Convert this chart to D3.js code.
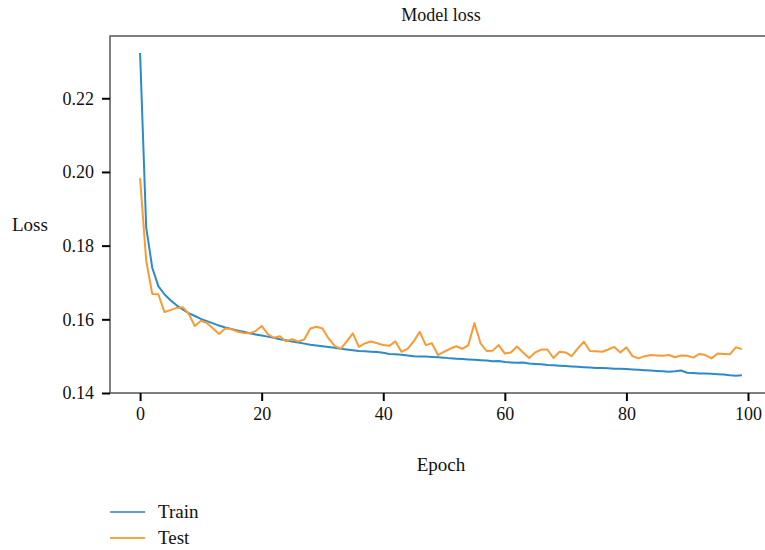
<!DOCTYPE html>
<meta charset="utf-8">
<style>
  body { margin: 0; background: #fff; }
  svg text { font-family: "Liberation Serif", "DejaVu Serif", serif; fill: #111; }
</style>
<script src="https://d3js.org/d3.v7.min.js"></script>
<div id="chart"></div>
<script>
  // epochs 0..99
  var epochs = d3.range(0, 100);

  var trainLoss = [
    0.2323, 0.1850, 0.1740, 0.1690, 0.1668, 0.1652, 0.1638, 0.1627, 0.1617, 0.1609,
    0.1601, 0.1595, 0.1589, 0.1583, 0.1578, 0.1574, 0.1570, 0.1566, 0.1562, 0.1559,
    0.1556, 0.1553, 0.1550, 0.1546, 0.1543, 0.1540, 0.1537, 0.1534, 0.1531, 0.1529,
    0.1527, 0.1525, 0.1523, 0.1520, 0.1518, 0.1516, 0.1514, 0.1513, 0.1512, 0.1511,
    0.1509, 0.1506, 0.1505, 0.1504, 0.1502, 0.1500, 0.1499, 0.1499, 0.1498, 0.1497,
    0.1496, 0.1494, 0.1493, 0.1492, 0.1491, 0.1490, 0.1489, 0.1488, 0.1486, 0.1487,
    0.1484, 0.1483, 0.1482, 0.1483, 0.1480, 0.1479, 0.1478, 0.1476, 0.1475, 0.1474,
    0.1473, 0.1472, 0.1471, 0.1470, 0.1469, 0.1468, 0.1468, 0.1467, 0.1466, 0.1466,
    0.1465, 0.1464, 0.1463, 0.1462, 0.1461, 0.1460, 0.1459, 0.1458, 0.1459, 0.1461,
    0.1455, 0.1454, 0.1453, 0.1453, 0.1452, 0.1451, 0.1450, 0.1448, 0.1447, 0.1448
  ];

  var testLoss = [
    0.1983, 0.1760, 0.1669, 0.1668, 0.1620, 0.1625, 0.1631, 0.1633, 0.1615, 0.1582,
    0.1596, 0.1590, 0.1575, 0.1560, 0.1575, 0.1573, 0.1567, 0.1563, 0.1562, 0.1568,
    0.1582, 0.1560, 0.1550, 0.1554, 0.1540, 0.1546, 0.1540, 0.1545, 0.1575, 0.1580,
    0.1575, 0.1548, 0.1528, 0.1520, 0.1540, 0.1562, 0.1525, 0.1535, 0.1540, 0.1535,
    0.1530, 0.1528, 0.1540, 0.1512, 0.1520, 0.1540, 0.1566, 0.1530, 0.1535, 0.1503,
    0.1512, 0.1520, 0.1527, 0.1520, 0.1530, 0.1590, 0.1535, 0.1514, 0.1515, 0.1530,
    0.1507, 0.1510, 0.1526, 0.1510, 0.1495, 0.1510, 0.1518, 0.1518, 0.1495, 0.1512,
    0.1510, 0.1500, 0.1521, 0.1539, 0.1514, 0.1513, 0.1512, 0.1518, 0.1525, 0.1510,
    0.1524, 0.1500, 0.1494, 0.1500, 0.1503, 0.1502, 0.1501, 0.1503, 0.1497, 0.1502,
    0.1501, 0.1496, 0.1506, 0.1503, 0.1494, 0.1507, 0.1506, 0.1505, 0.1524, 0.1519
  ];

  var xTicks = [0, 20, 40, 60, 80, 100];
  var yTicks = [0.14, 0.16, 0.18, 0.20, 0.22];
  var seriesNames = ["Train", "Test"];
  var colors = { Train: "#2b8bca", Test: "#f99b33" };
  var legendColors = { Train: "#5d9fd2", Test: "#f7a54b" };

  var width = 765, height = 550;
  var plot = { left: 110, top: 36, right: 772, bottom: 393 };

  var svg = d3.select("#chart").append("svg")
      .attr("width", width)
      .attr("height", height);

  var x = d3.scaleLinear().domain([-4.95, 103.95]).range([plot.left, plot.right]);
  var y = d3.scaleLinear().domain([0.14, 0.2369]).range([plot.bottom, plot.top]);

  // lines
  var line = d3.line()
      .x(function(d, i) { return x(epochs[i]); })
      .y(function(d) { return y(d); });

  svg.append("path").datum(trainLoss)
      .attr("fill", "none").attr("stroke", colors.Train)
      .attr("stroke-width", 2).attr("stroke-linejoin", "round")
      .attr("d", line);
  svg.append("path").datum(testLoss)
      .attr("fill", "none").attr("stroke", colors.Test)
      .attr("stroke-width", 2).attr("stroke-linejoin", "round")
      .attr("d", line);

  // frame (left, top, bottom spines)
  svg.append("path")
      .attr("d", "M" + plot.right + "," + plot.top + "H" + plot.left + "V" + plot.bottom + "H" + plot.right)
      .attr("fill", "none").attr("stroke", "#555").attr("stroke-width", 1.5);

  // axes
  var xAxis = svg.append("g")
      .attr("transform", "translate(0," + plot.bottom + ")")
      .call(d3.axisBottom(x).tickValues(xTicks).tickSize(8).tickPadding(6).tickFormat(d3.format("d")));
  var yAxis = svg.append("g")
      .attr("transform", "translate(" + plot.left + ",0)")
      .call(d3.axisLeft(y).tickValues(yTicks).tickSize(8).tickPadding(8).tickFormat(d3.format(".2f")));

  [xAxis, yAxis].forEach(function(a) {
    a.select(".domain").remove();
    a.selectAll(".tick line").attr("stroke", "#000").attr("stroke-width", 2);
    a.selectAll(".tick text").style("font-size", "18px").attr("fill", "#111");
  });

  // title and axis labels
  svg.append("text").attr("x", (plot.left + plot.right) / 2).attr("y", 21)
      .attr("text-anchor", "middle").style("font-size", "18px").text("Model loss");
  svg.append("text").attr("x", (plot.left + plot.right) / 2).attr("y", 471)
      .attr("text-anchor", "middle").style("font-size", "19px").text("Epoch");
  svg.append("text").attr("x", 12).attr("y", 231)
      .style("font-size", "19px").text("Loss");

  // legend
  var legend = svg.append("g");
  seriesNames.forEach(function(name, i) {
    var ly = 512 + i * 26;
    legend.append("line")
        .attr("x1", 110).attr("x2", 145).attr("y1", ly).attr("y2", ly)
        .attr("stroke", legendColors[name]).attr("stroke-width", 2);
    legend.append("text").attr("x", 158).attr("y", ly + 6)
        .style("font-size", "19px").text(name);
  });
</script>
